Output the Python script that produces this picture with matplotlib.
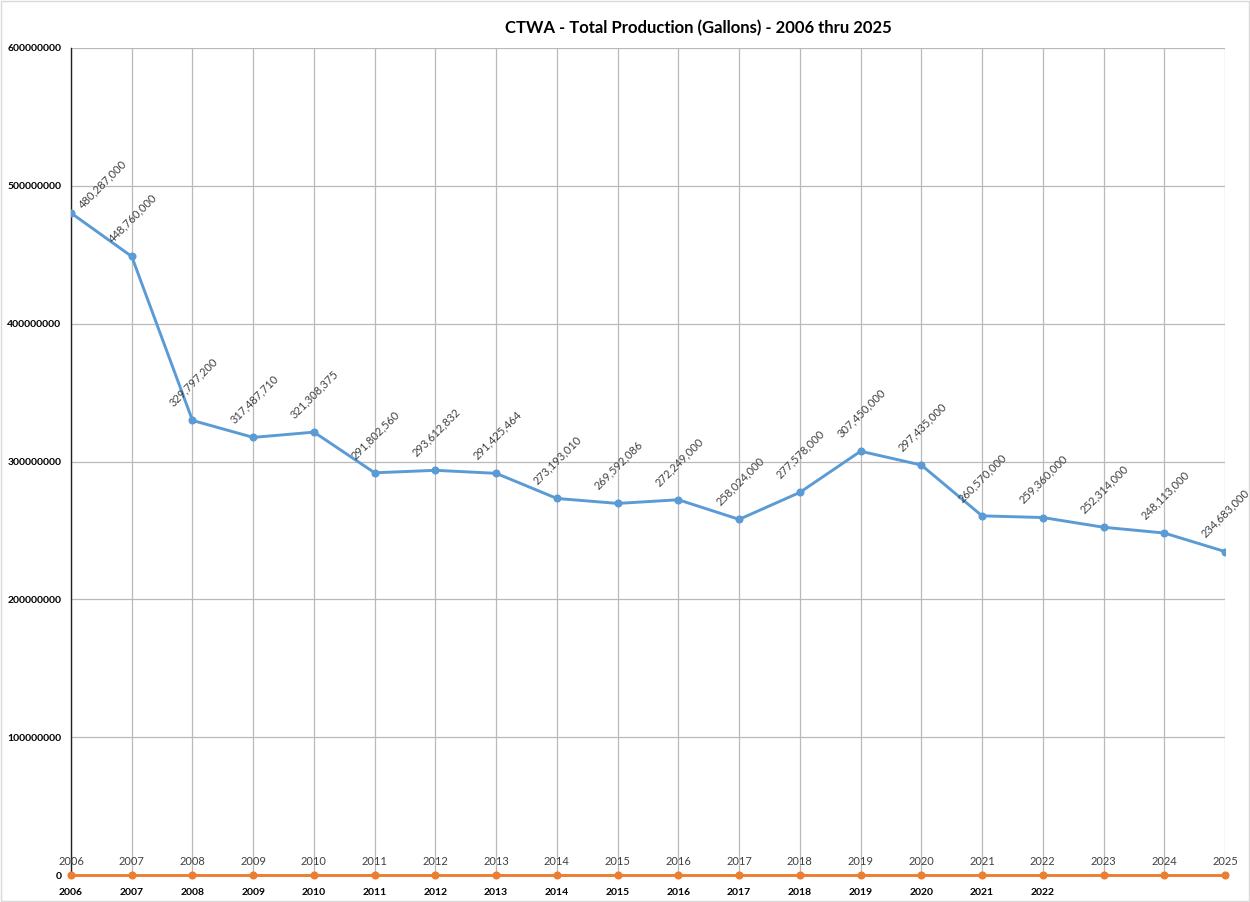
import matplotlib.pyplot as plt
from matplotlib.patches import Rectangle

# Chart data
years = list(range(2006, 2026))
production = [480287000, 448760000, 329797200, 317487710, 321308375,
              291802560, 293612832, 291425464, 273193010, 269592086,
              272249000, 258024000, 277578000, 307450000, 297435000,
              260570000, 259360000, 252314000, 248113000, 234683000]
baseline = [0] * len(years)
tick_labels = [str(y) for y in range(2006, 2023)] + ["", "", ""]
title = "CTWA - Total Production (Gallons) - 2006 thru 2025"

BLUE = "#5B9BD5"
ORANGE = "#ED7D31"
GRID = "#b9b9b9"
LABEL = "#404040"

plt.rcParams['font.family'] = ['Lato', 'DejaVu Sans']


def main():
    fig = plt.figure(figsize=(12.5, 9.02), dpi=100)
    ax = fig.add_axes([0.0568, 0.0299, 0.9232, 0.9169])

    # Series
    ax.plot(years, production, color=BLUE, lw=2.1, marker="o", ms=4.8,
            zorder=3)
    ax.plot(years, baseline, color=ORANGE, lw=2.1, marker="o", ms=4.8,
            zorder=4, clip_on=False)

    # Data labels, rotated like the spreadsheet
    for i, (x, v) in enumerate(zip(years, production)):
        off = (23, 21) if i == 0 else (0.5, 27.5)
        ax.annotate(f"{v:,}", (x, v), xytext=off, textcoords="offset points",
                    rotation=45, rotation_mode="anchor", ha="center",
                    va="center", fontsize=8, color=LABEL)
    # category names above the zero series
    for x in years:
        ax.annotate(str(x), (x, 0), xytext=(0, 10), textcoords="offset points",
                    ha="center", va="center", fontsize=8, color=LABEL)

    # Axes
    ax.set_xlim(2006, 2025)
    ax.set_ylim(0, 600000000)
    ax.set_xticks(years)
    ax.set_xticklabels(tick_labels, fontweight="bold", fontsize=7.5)
    ax.set_yticks(range(0, 600000001, 100000000))
    ax.set_yticklabels([str(v) for v in range(0, 600000001, 100000000)],
                       fontweight="bold", fontsize=7.5)
    ax.tick_params(axis="both", length=0)
    ax.tick_params(axis="y", pad=7)
    ax.tick_params(axis="x", pad=9)
    ax.grid(True, color=GRID, lw=0.9)
    ax.set_axisbelow(True)
    for side in ["top", "right", "bottom"]:
        ax.spines[side].set_visible(False)
    ax.spines["left"].set_color("#222222")
    ax.spines["left"].set_linewidth(1.0)

    fig.text(0.5585, 0.969, title, ha="center", va="center",
             fontsize=12, fontweight="bold")

    # thin chart-area border
    fig.patches.append(Rectangle((0.001, 0.001), 0.998, 0.998,
                                 transform=fig.transFigure, fill=False,
                                 edgecolor="#d9d9d9", lw=1.0))

    fig.savefig("out.png", dpi=100)


if __name__ == "__main__":
    main()
